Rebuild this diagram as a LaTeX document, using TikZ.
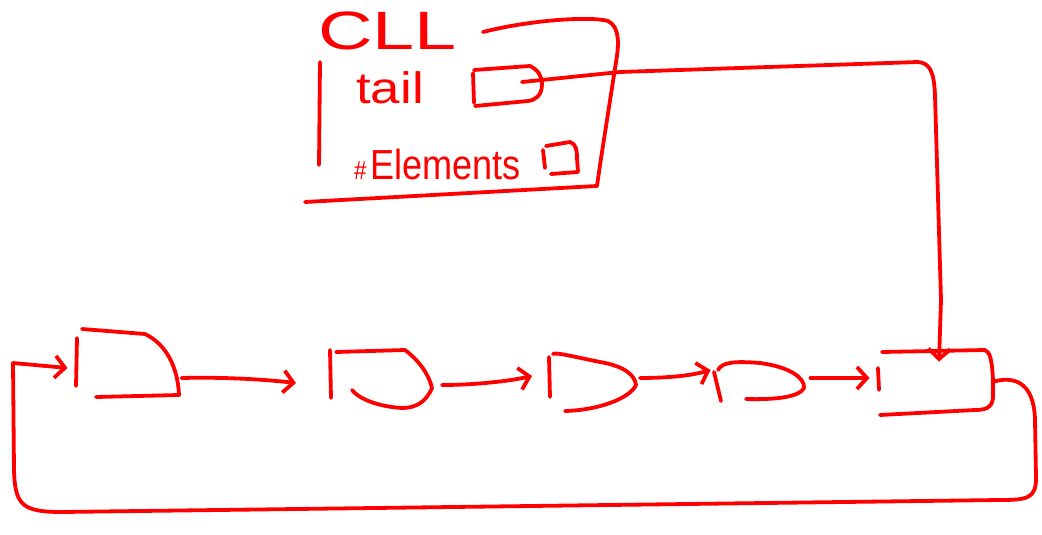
\documentclass[tikz,border=0pt]{standalone}
\usepackage{fontspec}
\setmainfont{Liberation Sans}
\usetikzlibrary{arrows.meta,calc}
\definecolor{ink}{RGB}{255,0,0}
\begin{document}
\begin{tikzpicture}[x=1pt,y=-1pt,
  pen/.style={draw=ink,line width=3.8pt,line cap=round,line join=round},
  arr/.style={pen,-{Straight Barb[length=10pt,width=22pt]}},
  slot/.style={draw=none,inner sep=0pt,outer sep=0pt},
  label/.style={text=ink,inner sep=0pt}]
\useasboundingbox (0,0) rectangle (1042,535);

% --- CLL record ---
\node[label,anchor=west,xscale=1.4,font=\fontsize{54}{54}\selectfont] (cll) at (318,31) {CLL};
\node[label,anchor=west,xscale=1.2,font=\fontsize{44}{44}\selectfont] (tail) at (356,88) {tail};
\node[label,anchor=west,xscale=0.86,font=\fontsize{42}{42}\selectfont] (elems) at (354,164) {{\fontsize{26}{26}\selectfont\#\,}Elements};
\node[slot,minimum width=70pt,minimum height=40pt] (tailbox) at (507,85) {};
\node[slot,minimum width=38pt,minimum height=33pt] (elbox) at (559,158) {};

\draw[pen] (320,62) -- (319,165);
\draw[pen] (483,32) .. controls (530,20) and (590,16) .. (608,21)
  .. controls (620,27) and (619,45) .. (616,62) -- (600,165) -- (597,186) -- (305,202);
% tail box
\draw[pen] (473,73) -- (474,103);
\draw[pen] (474,70) -- (530,66) .. controls (538,70) and (542,76) .. (542,84)
  .. controls (542,95) and (536,100) .. (528,101) -- (475,106);
% #Elements box
\draw[pen] (543,150) -- (545,168);
\draw[pen] (546,146) -- (570,142) .. controls (576,144) and (577,150) .. (577,158) -- (578,172) -- (551,174);

% --- list nodes ---
\node[slot,minimum width=101pt,minimum height=67pt] (n1) at (127,363) {};
\node[slot,minimum width=102pt,minimum height=58pt] (n2) at (381,379) {};
\node[slot,minimum width=88pt,minimum height=57pt] (n3) at (592,381) {};
\node[slot,minimum width=91pt,minimum height=40pt] (n4) at (760,382) {};
\node[slot,minimum width=115pt,minimum height=65pt] (n5) at (935,382) {};

% n1
\draw[pen] (77,338) -- (76,386);
\draw[pen] (82,329) -- (145,334) .. controls (168,345) and (178,370) .. (179,395) -- (96,397);
% n2
\draw[pen] (330,350) -- (331,398);
\draw[pen] (336,352) -- (405,350) .. controls (418,360) and (428,372) .. (432,388)
  .. controls (426,402) and (416,408) .. (402,408) .. controls (385,407) and (362,402) .. (352,390);
% n3
\draw[pen] (549,357) -- (550,397);
\draw[pen] (553,354) .. controls (556,352) and (575,357) .. (600,362)
  .. controls (624,366) and (635,375) .. (636,385) .. controls (630,398) and (600,410) .. (565,411);
% n4
\draw[pen] (714,372) -- (721,401);
\draw[pen] (718,370) .. controls (722,362) and (735,361) .. (760,363)
  .. controls (790,367) and (805,378) .. (804,388) .. controls (800,396) and (780,400) .. (746,399);
% n5
\draw[pen] (878,368) -- (879,390);
\draw[pen] (882,352) -- (985,350) .. controls (990,352) and (992,360) .. (993,380) -- (993,398)
  .. controls (992,408) and (985,410) .. (975,410) -- (880,415);

% --- connectors ---
\draw[arr] ($(n1.east)+(4,15)$) .. controls (220,377) and (260,379) .. ($(n2.west)+(-34,4)$);
\draw[arr] ($(n2.east)+(10,6)$) .. controls (470,385) and (505,382) .. ($(n3.west)+(-16,-5)$);
\draw[arr] ($(n3.east)+(4,-3)$) .. controls (665,378) and (690,376) .. ($(n4.west)+(-4,-12)$);
\draw[arr] ($(n4.east)+(5,-4)$) .. controls (830,378) and (850,378) .. ($(n5.west)+(-8,-4)$);

% tail pointer
\draw[arr] ($(tailbox.center)+(15,-3)$) -- (620,72) -- (918,62)
  .. controls (930,63) and (934,72) .. (935,95) -- (941,300) -- ($(n5.north)+(4,12)$);

% circular link back to the first node
\draw[arr] (n5.east) .. controls (1012,376) and (1034,380) .. (1035,420)
  -- (1036,478) .. controls (1036,498) and (1028,500) .. (1000,500)
  -- (62,512) .. controls (22,512) and (15,505) .. (14,470)
  -- (13,363) -- ($(n1.west)+(-9,5)$);
\end{tikzpicture}
\end{document}
